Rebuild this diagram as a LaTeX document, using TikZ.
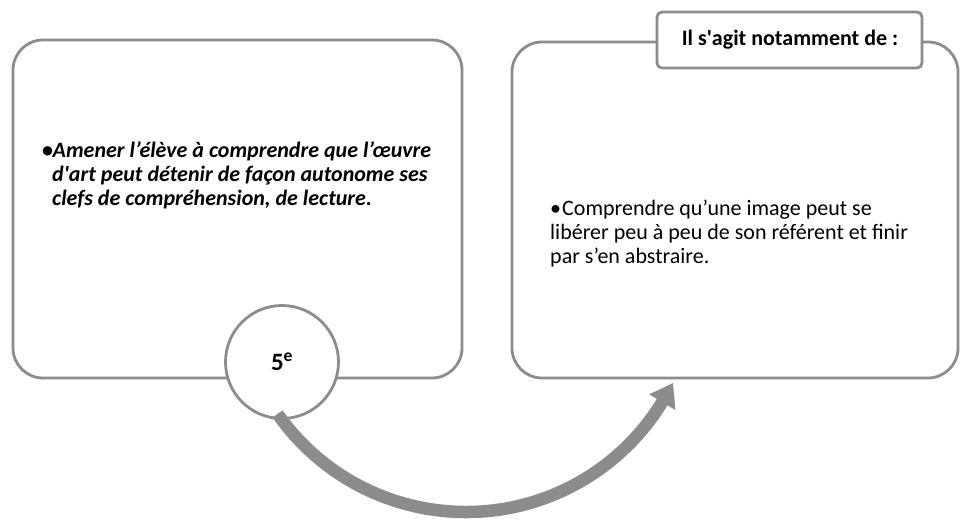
\documentclass[tikz,border=0pt]{standalone}
\usepackage{fontspec}
\setmainfont{Carlito}
\usetikzlibrary{arrows.meta,bending,calc}
\definecolor{bordergray}{HTML}{8C8C8C}
\begin{document}
\begin{tikzpicture}[x=1pt,y=-1pt,
  panel/.style={draw=bordergray,line width=2.8pt,rounded corners=30pt,fill=white},
  tagbox/.style={draw=bordergray,line width=2.8pt,rounded corners=5pt,fill=white},
  bodytext/.style={align=left,anchor=north west,inner sep=0pt},
]
\useasboundingbox (0,0) rectangle (960,521);
% left panel
\draw[panel] (13,40) rectangle (462,378);
\node[bodytext,font=\fontsize{22}{24}\selectfont\bfseries\itshape] (ltext) at (42,141) {%
\makebox[10.5pt][l]{\upshape•}Amener l’élève à comprendre que l’œuvre\\
\hspace*{10pt}d\textquotesingle art peut détenir de façon autonome ses\\
\hspace*{10pt}clefs de compréhension, de lecture.};
% right panel
\draw[panel] (512,42) rectangle (958,378);
\node[bodytext,font=\fontsize{22}{24}\selectfont] (rtext) at (550,200) {%
\makebox[12pt][l]{•}Comprendre qu’une image peut se\\
libérer peu à peu de son référent et finir\\
par s’en abstraire.};
% label box
\draw[tagbox] (657,12) rectangle (922,68);
\node[font=\bfseries\fontsize{22}{26}\selectfont] (tag) at (790,40) {Il s\textquotesingle agit notamment de :};
% circle
\node[draw=bordergray,line width=2.8pt,fill=white,circle,minimum size=113pt,inner sep=0pt,
  font=\bfseries\fontsize{25}{28}\selectfont] (lvl) at (282,362) {5\textsuperscript{e}};
% arrow
\coordinate (ac) at (466,282);
\coordinate (tip) at ($(ac)+(26:230)$);
\draw[bordergray,line width=12.5pt,-{Triangle[length=22pt,width=29pt,bend]}]
  ($(ac)+(145:230)$) arc[start angle=145,end angle=26,radius=230];
\end{tikzpicture}
\end{document}
